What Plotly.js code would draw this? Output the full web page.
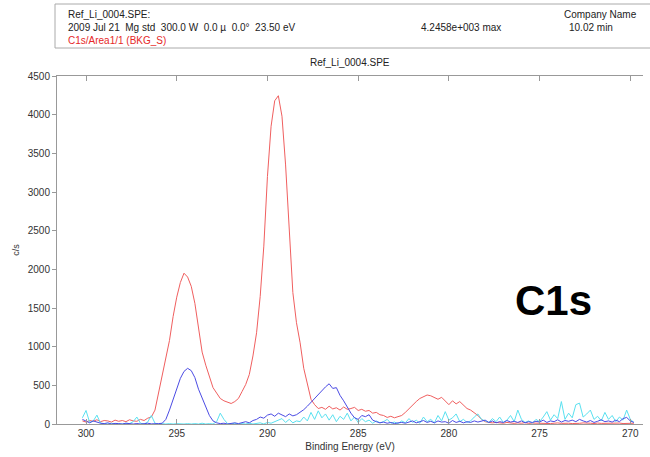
<!DOCTYPE html>
<html>
<head>
<meta charset="utf-8">
<script src="https://cdn.plot.ly/plotly-3.0.1.min.js"></script>
<style>html,body{margin:0;padding:0;background:#fff;}#chart{width:650px;height:457px;}</style>
</head>
<body>
<div id="chart"></div>
<script>
// Binding energy grid: first point and step (eV), 153 points from 300.2 down to 269.8
const energyStart = 300.2;
const energyStep = -0.2;

const c1sTotal = [
  40, 25, 45, 35, 55,
  30, 45, 40, 25, 50,
  35, 45, 30, 55, 40,
  35, 60, 45, 75, 90,
  180, 400, 620, 850, 1080,
  1390, 1640, 1830, 1950, 1900,
  1780, 1560, 1220, 930, 760,
  600, 470, 400, 330, 300,
  280, 265, 290, 330, 420,
  510, 640, 880, 1180, 1650,
  2300, 3200, 3850, 4180, 4245,
  3980, 3350, 2520, 1700, 1310,
  1050, 720, 520, 320, 250,
  200, 215, 190, 230, 195,
  210, 180, 220, 190, 200,
  215, 175, 190, 165, 175,
  140, 150, 120, 110, 85,
  100, 80, 95, 110, 150,
  200, 245, 290, 330, 350,
  375, 365, 340, 320, 345,
  290, 250, 300, 260, 290,
  240, 200, 180, 145, 110,
  60, 30, 20, 15, 20,
  15, 10, 20, 12, 8,
  15, 10, 18, 8, 12,
  10, 15, 8, 12, 6,
  10, 14, 8, 12, 10,
  6, 12, 9, 14, 8,
  10, 6, 12, 8, 10,
  5, 10, 8, 12, 6,
  8, 5, 10
];

const c1sComponent = [
  60, 35, 15, 40, 20,
  10, 5, 15, 0, 8,
  5, 0, 10, 3, 0,
  6, 0, 4, 10, 2,
  0, 5, 10, 60, 180,
  320, 450, 590, 680, 720,
  690, 600, 450, 330, 220,
  110, 40, 15, 5, 10,
  0, 5, 15, 5, 20,
  30, 15, 45, 60, 90,
  75, 115, 130, 100, 140,
  120, 95, 130, 105, 120,
  150, 185, 230, 280, 330,
  380, 440, 480, 520, 460,
  470, 370, 300, 220, 140,
  80, 60, 110, 95, 120,
  50, 30, 15, 25, 10,
  20, 5, 15, 20, 10,
  25, 40, 15, 30, 45,
  20, 35, 15, 40, 25,
  30, 10, 45, 20, 35,
  15, 30, 20, 40, 25,
  35, 50, 20, 40, 15,
  30, 20, 45, 25, 35,
  20, 40, 15, 30, 20,
  35, 25, 50, 20, 40,
  30, 55, 25, 45, 35,
  50, 30, 60, 40, 25,
  45, 20, 35, 55, 30,
  40, 25, 50, 30, 70,
  85, 40, 20
];

const c1sResidual = [
  80, 175, 20, 40, 115,
  10, 5, 0, 10, 0,
  5, 0, 10, 5, 30,
  90, 10, 0, 25, 110,
  10, 0, 5, 0, 5,
  0, 5, 0, 0, 5,
  0, 5, 0, 10, 0,
  5, 0, 30, 140, 60,
  5, 0, 10, 0, 5,
  0, 10, 0, 5, 15,
  0, 20, 10, 30, 50,
  70, 20, 60, 15, 40,
  30, 90, 40, 150, 60,
  170, 80, 130, 50, 120,
  30, 100, 60, 140, 40,
  90, 20, 70, 30, 50,
  10, 40, 15, 30, 60,
  10, 25, 5, 40, 15,
  70, 20, 50, 10, 90,
  30, 60, 15, 110, 40,
  160, 50, 80, 130, 30,
  60, 20, 40, 90, 130,
  60, 40, 20, 70, 30,
  90, 20, 50, 110, 30,
  180, 60, 20, 40, 10,
  60, 30, 90, 160, 50,
  120, 70, 290, 60, 140,
  80, 250, 270, 90, 130,
  180, 60, 100, 40, 150,
  60, 110, 30, 90, 50,
  180, 60, 20
];

const xTickVals = [300, 295, 290, 285, 280, 275, 270];
const yTickVals = [0, 500, 1000, 1500, 2000, 2500, 3000, 3500, 4000, 4500];

const headerLines = {
  file: "Ref_Li_0004.SPE:",
  params: "2009 Jul 21  Mg std  300.0 W  0.0 \u00b5  0.0\u00b0  23.50 eV",
  region: "C1s/Area1/1 (BKG_S)",
  max: "4.2458e+003 max",
  company: "Company Name",
  time: "10.02 min"
};
const plotTitle = "Ref_Li_0004.SPE";
const peakLabel = "C1s";

const font = "Arial, 'Liberation Sans', sans-serif";

const traces = [
  {y: c1sTotal, x0: energyStart, dx: energyStep, type: 'scatter', mode: 'lines',
   line: {color: 'rgb(240,95,95)', width: 1}, hoverinfo: 'skip'},
  {y: c1sResidual, x0: energyStart, dx: energyStep, type: 'scatter', mode: 'lines',
   line: {color: 'rgb(90,225,240)', width: 1}, hoverinfo: 'skip'},
  {y: c1sComponent, x0: energyStart, dx: energyStep, type: 'scatter', mode: 'lines',
   line: {color: 'rgb(75,75,228)', width: 1}, hoverinfo: 'skip'}
];

// paper-coordinate helpers for header placement (plot area 57..643 x, 76..424 y)
const L = 57, R = 643, T = 76, B = 424;
const px = v => (v - L) / (R - L);
const py = v => (B - v) / (B - T);

const hdrFont = {family: font, size: 10, color: '#222'};
const annotations = [
  {text: headerLines.file, x: px(66), y: py(14), xanchor: 'left', yanchor: 'middle', font: hdrFont},
  {text: headerLines.params, x: px(66), y: py(27), xanchor: 'left', yanchor: 'middle', font: hdrFont},
  {text: headerLines.region, x: px(66), y: py(40), xanchor: 'left', yanchor: 'middle', font: {family: font, size: 10, color: 'rgb(230,40,40)'}},
  {text: headerLines.max, x: px(419), y: py(27), xanchor: 'left', yanchor: 'middle', font: hdrFont},
  {text: headerLines.company, x: px(562), y: py(14), xanchor: 'left', yanchor: 'middle', font: hdrFont},
  {text: headerLines.time, x: px(567), y: py(27), xanchor: 'left', yanchor: 'middle', font: hdrFont},
  {text: plotTitle, x: 0.5, y: py(62), xanchor: 'center', yanchor: 'middle', font: {family: font, size: 10, color: '#222'}},
  {text: '<b>' + peakLabel + '</b>', x: px(553), y: py(300), xanchor: 'center', yanchor: 'middle', font: {family: font, size: 42, color: '#000'}}
].map(a => Object.assign({xref: 'paper', yref: 'paper', showarrow: false}, a));

const layout = {
  width: 650, height: 457,
  margin: {l: L, r: 650 - R, t: T, b: 457 - B, pad: 0},
  paper_bgcolor: '#fff', plot_bgcolor: '#fff',
  showlegend: false,
  font: {family: font, size: 10, color: '#333'},
  xaxis: {
    range: [301.6, 269.3], tickvals: xTickVals, ticktext: xTickVals.map(String),
    showgrid: false, zeroline: false, showline: true, linecolor: '#999', linewidth: 1,
    mirror: 'ticks', ticks: 'inside', ticklen: 5, tickcolor: '#999',
    tickfont: {family: font, size: 10, color: '#333'},
    title: {text: 'Binding Energy (eV)', font: {family: font, size: 10, color: '#333'}, standoff: 4}
  },
  yaxis: {
    range: [0, 4500], tickvals: yTickVals, ticktext: yTickVals.map(String),
    showgrid: false, zeroline: false, showline: true, linecolor: '#999', linewidth: 1,
    ticks: 'outside', ticklen: 4, tickcolor: '#999',
    tickfont: {family: font, size: 10, color: '#333'},
    title: {text: 'c/s', font: {family: font, size: 9, color: '#333'}, standoff: 6}
  },
  shapes: [
    {type: 'rect', xref: 'paper', yref: 'paper', x0: px(55), x1: px(700), y0: py(48), y1: py(4),
     line: {color: '#aaa', width: 1}, fillcolor: 'rgba(0,0,0,0)'}
  ],
  annotations: annotations
};

Plotly.newPlot('chart', traces, layout, {staticPlot: true, displayModeBar: false});
</script>
</body>
</html>
